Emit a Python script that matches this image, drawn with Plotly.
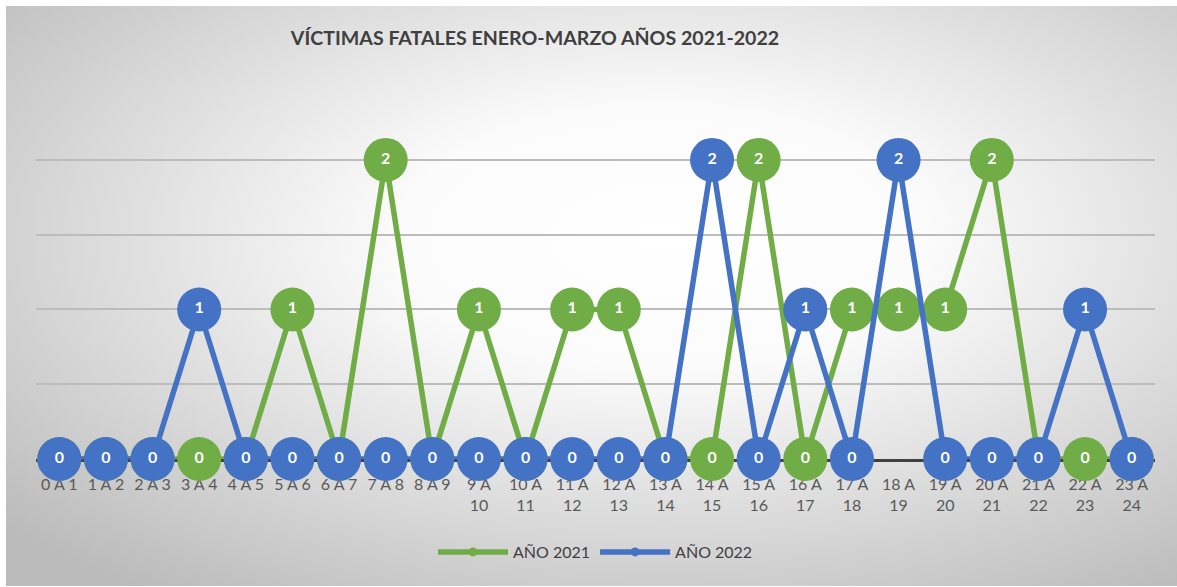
import base64
import plotly.graph_objects as go

categories = ["0 A 1", "1 A 2", "2 A 3", "3 A 4", "4 A 5", "5 A 6", "6 A 7", "7 A 8", "8 A 9",
              "9 A<br>10", "10 A<br>11", "11 A<br>12", "12 A<br>13", "13 A<br>14", "14 A<br>15",
              "15 A<br>16", "16 A<br>17", "17 A<br>18", "18 A<br>19", "19 A<br>20", "20 A<br>21",
              "21 A<br>22", "22 A<br>23", "23 A<br>24"]
anio_2021 = [0, 0, 0, 0, 0, 1, 0, 2, 0, 1, 0, 1, 1, 0, 0, 2, 0, 1, 1, 1, 2, 0, 0, 0]
anio_2022 = [0, 0, 0, 1, 0, 0, 0, 0, 0, 0, 0, 0, 0, 0, 2, 0, 1, 0, 2, 0, 0, 0, 1, 0]

GREEN = "#70ad47"
BLUE = "#4472c4"
FONT = "Lato"

W, H = 1177, 587
YMAX = 2.1
ML, MR, MB = 36, 22, 128
UNIT = 149.5  # px per value unit
MT = int(round(H - MB - YMAX * UNIT))
PW, PH = W - ML - MR, H - MT - MB

xs = list(range(len(categories)))

fig = go.Figure()
for name, vals, col in [("AÑO 2021", anio_2021, GREEN), ("AÑO 2022", anio_2022, BLUE)]:
    fig.add_trace(go.Scatter(
        x=xs, y=vals, mode="lines+markers+text", name=name, showlegend=False,
        line=dict(color=col, width=5.5),
        marker=dict(color=col, size=44, line=dict(width=0)),
        text=[str(v) for v in vals], textposition="middle center",
        textfont=dict(family=FONT, size=16, color="white", weight="bold"),
        cliponaxis=False, hoverinfo="skip"))
for name, col in [("AÑO 2021", GREEN), ("AÑO 2022", BLUE)]:
    fig.add_trace(go.Scatter(x=[None], y=[None], mode="lines+markers", name=name,
                             line=dict(color=col, width=5.5),
                             marker=dict(color=col, size=9)))

svg = f'''<svg xmlns="http://www.w3.org/2000/svg" width="1171" height="580" viewBox="0 0 1171 580" preserveAspectRatio="none">
<defs><radialGradient id="g" cx="0.56" cy="0.4" r="0.75" gradientUnits="objectBoundingBox">
<stop offset="0" stop-color="#ffffff"/><stop offset="0.3" stop-color="#fbfbfb"/><stop offset="1" stop-color="#bbbbbb"/></radialGradient></defs>
<rect x="0" y="0" width="1171" height="580" fill="url(#g)"/></svg>'''
src = "data:image/svg+xml;base64," + base64.b64encode(svg.encode()).decode()

x0 = (6 - ML) / PW
y_top = (MT + PH - 6) / PH
fig.add_layout_image(dict(source=src, xref="paper", yref="paper", x=x0, y=y_top,
                          sizex=(W - 6) / PW, sizey=(586 - 6) / PH, sizing="stretch",
                          xanchor="left", yanchor="top", layer="below"))

fig.update_layout(
    width=W, height=H,
    margin=dict(l=ML, r=MR, t=MT, b=MB),
    paper_bgcolor="white", plot_bgcolor="rgba(0,0,0,0)",
    title=dict(text="VÍCTIMAS FATALES ENERO-MARZO AÑOS 2021-2022", x=535 / W, xref="container",
               xanchor="center", y=1 - 38 / H, yref="container", yanchor="middle",
               font=dict(family=FONT, size=19.6, color="#404040", weight="bold")),
    xaxis=dict(tickmode="array", tickvals=xs, ticktext=categories, range=[-0.5, len(xs) - 0.5],
               showgrid=False, zeroline=False, showline=True, linecolor="#404040", linewidth=3,
               ticks="", ticklabelstandoff=9, tickfont=dict(family=FONT, size=16, color="#595959"),
               layer="below traces", fixedrange=True),
    yaxis=dict(range=[0, YMAX], tickvals=[0, 0.5, 1, 1.5, 2], showticklabels=False, showgrid=True,
               gridcolor="#bcbcbc", gridwidth=1.5, zeroline=False, showline=False,
               layer="below traces", fixedrange=True),
    legend=dict(orientation="h", x=0.5, xanchor="center", y=(MT + PH - 552) / PH, yanchor="middle",
                font=dict(family=FONT, size=16, color="#404040"), itemwidth=70,
                bgcolor="rgba(255,255,255,0)"),
    showlegend=True,
)

fig.write_html("out.html", config={"displayModeBar": False},
               post_script="document.body.style.margin='0px';")
